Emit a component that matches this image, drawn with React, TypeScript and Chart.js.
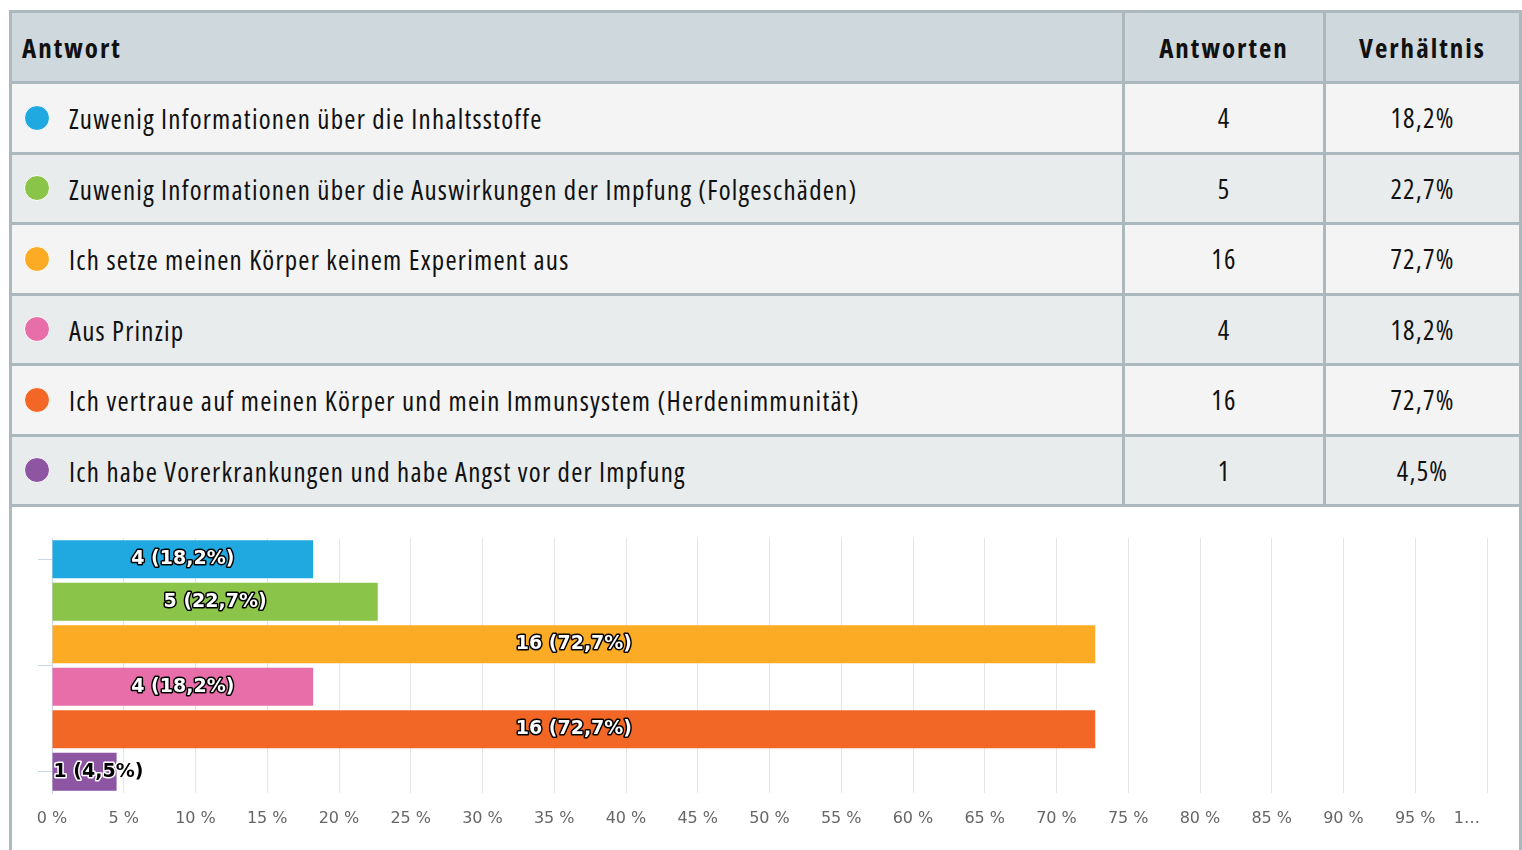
import React, { useEffect, useRef } from "react";
import { Chart, registerables } from "chart.js";

Chart.register(...registerables);

const answers = [
  "Zuwenig Informationen über die Inhaltsstoffe",
  "Zuwenig Informationen über die Auswirkungen der Impfung (Folgeschäden)",
  "Ich setze meinen Körper keinem Experiment aus",
  "Aus Prinzip",
  "Ich vertraue auf meinen Körper und mein Immunsystem (Herdenimmunität)",
  "Ich habe Vorerkrankungen und habe Angst vor der Impfung",
];
const counts = [4, 5, 16, 4, 16, 1];
const ratios = [18.2, 22.7, 72.7, 18.2, 72.7, 4.5];
const colors = ["#20a9e0", "#8ac449", "#fcab25", "#e76ea9", "#f26725", "#8d55a2"];
const xTickLabels = [
  "0 %", "5 %", "10 %", "15 %", "20 %", "25 %", "30 %", "35 %", "40 %", "45 %",
  "50 %", "55 %", "60 %", "65 %", "70 %", "75 %", "80 %", "85 %", "90 %", "95 %", "1…",
];
const yTickValues = [0, 2.5, 5];
const headers = ["Antwort", "Antworten", "Verhältnis"];

const fmt = (v: number) => v.toFixed(1).replace(".", ",");

const BORDER = "#abb9bf";
const FONT = '"Open Sans", "DejaVu Sans Condensed", sans-serif';

const dataLabelPlugin = {
  id: "dataLabels",
  afterDatasetsDraw(chart: any) {
    const ctx = chart.ctx;
    const meta = chart.getDatasetMeta(0);
    ctx.save();
    ctx.font = 'bold 19px "DejaVu Sans", sans-serif';
    ctx.textBaseline = "middle";
    ctx.lineJoin = "round";
    ctx.lineWidth = 3;
    meta.data.forEach((bar: any, i: number) => {
      const text = `${counts[i]} (${fmt(ratios[i])}%)`;
      const w = ctx.measureText(text).width;
      const left = Math.min(bar.base, bar.x);
      const barW = Math.abs(bar.x - bar.base);
      if (w + 6 < barW) {
        ctx.textAlign = "center";
        ctx.strokeStyle = "#000";
        ctx.fillStyle = "#fff";
        ctx.strokeText(text, left + barW / 2, bar.y);
        ctx.fillText(text, left + barW / 2, bar.y);
      } else {
        ctx.textAlign = "left";
        ctx.strokeStyle = "#fff";
        ctx.fillStyle = "#000";
        ctx.strokeText(text, left + 1, bar.y);
        ctx.fillText(text, left + 1, bar.y);
      }
    });
    ctx.restore();
  },
};

const xLabelPlugin = {
  id: "xLabels",
  afterDraw(chart: any) {
    const ctx = chart.ctx;
    const scale = chart.scales.x;
    ctx.save();
    ctx.font = '16px "DejaVu Sans", sans-serif';
    ctx.fillStyle = "#666666";
    ctx.textBaseline = "middle";
    const y = chart.chartArea.bottom + 26;
    scale.ticks.forEach((t: any, i: number) => {
      const label = xTickLabels[i] ?? "";
      const x = scale.getPixelForTick(i);
      if (i === scale.ticks.length - 1) {
        ctx.textAlign = "right";
        ctx.fillText(label, x - 7, y);
      } else {
        ctx.textAlign = "center";
        ctx.fillText(label, x, y);
      }
    });
    ctx.restore();
  },
};

function BarChart() {
  const ref = useRef<HTMLCanvasElement | null>(null);
  useEffect(() => {
    if (!ref.current) return;
    const chart = new Chart(ref.current, {
      type: "bar",
      data: {
        labels: answers,
        datasets: [
          {
            data: ratios,
            backgroundColor: colors,
            borderWidth: 0,
            categoryPercentage: 1,
            barPercentage: 0.894,
          },
        ],
      },
      options: {
        indexAxis: "y",
        animation: false,
        responsive: true,
        maintainAspectRatio: false,
        layout: { padding: { left: 26, right: 32, top: 31, bottom: 57 } },
        plugins: { legend: { display: false }, tooltip: { enabled: false } },
        scales: {
          x: {
            min: 0,
            max: 100,
            ticks: { stepSize: 5, display: false },
            grid: { color: "#e6e6e6", lineWidth: 1, drawTicks: false },
            border: { display: false },
          },
          y: {
            offset: true,
            ticks: { display: false, callback: () => "" },
            grid: {
              offset: false,
              drawOnChartArea: false,
              drawTicks: true,
              tickLength: 14,
              color: "#ccd6eb",
            },
            border: { display: true, color: "#ccd6eb", width: 1 },
            afterBuildTicks: (scale: any) => {
              scale.ticks = yTickValues.map((v) => ({ value: v }));
            },
          },
        },
      },
      plugins: [dataLabelPlugin, xLabelPlugin],
    });
    return () => chart.destroy();
  }, []);
  return <canvas ref={ref} />;
}

function Dot({ color }: { color: string }) {
  return (
    <span
      style={{
        position: "absolute",
        left: 12,
        top: "50%",
        marginTop: -13,
        width: 24,
        height: 24,
        borderRadius: "50%",
        background: color,
        border: "1px solid #fff",
      }}
    />
  );
}

export default function App() {
  const col1 = 1113;
  const col2 = 201;
  const col3 = 193;
  const cellBase: React.CSSProperties = {
    display: "flex",
    alignItems: "center",
    boxSizing: "border-box",
    position: "relative",
    whiteSpace: "nowrap",
    flex: "none",
  };
  return (
    <div style={{ position: "absolute", left: 0, top: 0, width: 1522, height: 850, background: "#fff", overflow: "hidden", fontFamily: FONT, fontStretch: "75%" }}>
      <div
        style={{
          position: "absolute",
          left: 9,
          top: 10,
          width: 1513,
          height: 900,
          boxSizing: "border-box",
          borderLeft: `3px solid ${BORDER}`,
          borderRight: `3px solid ${BORDER}`,
          borderTop: `3px solid ${BORDER}`,
        }}
      >
        <div style={{ display: "flex", height: 68, background: "#cfd8dc", fontWeight: 700, fontSize: 27, letterSpacing: 2, color: "#111" }}>
          <div style={{ ...cellBase, width: col1, paddingLeft: 10, borderRight: `3px solid ${BORDER}` }}>{headers[0]}</div>
          <div style={{ ...cellBase, width: col2, justifyContent: "center", borderRight: `3px solid ${BORDER}` }}>{headers[1]}</div>
          <div style={{ ...cellBase, width: col3, justifyContent: "center" }}>{headers[2]}</div>
        </div>
        {answers.map((a, i) => (
          <div
            key={i}
            style={{
              display: "flex",
              height: 67.5,
              borderTop: `3px solid ${BORDER}`,
              background: i % 2 === 0 ? "#f4f4f4" : "#e8eced",
              fontSize: 27,
              letterSpacing: 1.23,
              color: "#111",
            }}
          >
            <div style={{ ...cellBase, width: col1, paddingLeft: 57, paddingTop: 2, borderRight: `3px solid ${BORDER}` }}>
              <Dot color={colors[i]} />
              {a}
            </div>
            <div style={{ ...cellBase, width: col2, justifyContent: "center", borderRight: `3px solid ${BORDER}` }}>{counts[i]}</div>
            <div style={{ ...cellBase, width: col3, justifyContent: "center" }}>{fmt(ratios[i])}%</div>
          </div>
        ))}
        <div style={{ borderTop: `3px solid ${BORDER}`, height: 400 }} />
      </div>
      <div style={{ position: "absolute", left: 12, top: 507, width: 1507, height: 343 }}>
        <BarChart />
      </div>
    </div>
  );
}
